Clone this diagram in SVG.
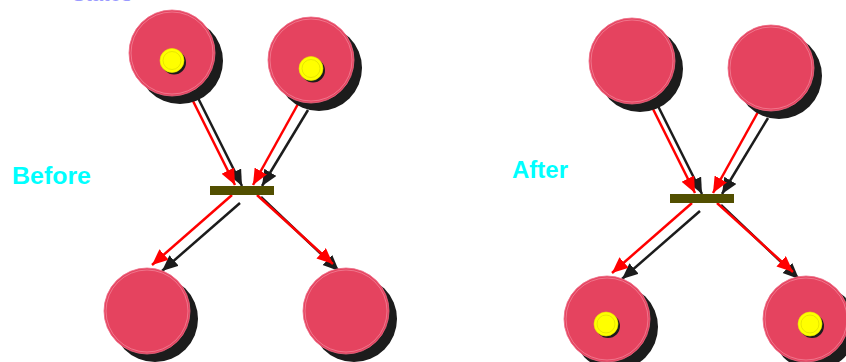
<svg xmlns="http://www.w3.org/2000/svg" width="846" height="362" viewBox="0 0 846 362">
<style>
.shadow{fill:#1c1c1c}
.place{fill:#E5435F;stroke:#ee6a84;stroke-width:0.8}
.ring{fill:none;stroke:#f3899d;stroke-width:0.7}
.tok{fill:#FFFF00;stroke:#e8e800;stroke-width:0.6}
.tokring{fill:none;stroke:#d6d600;stroke-width:0.6}
.bar{fill:#524F00}
.red{stroke:#FF0000;stroke-width:2.5;fill:none;marker-end:url(#ahr)}
.blk{stroke:#1c1c1c;stroke-width:2.5;fill:none;marker-end:url(#ahb)}
.lbl{font-family:"Liberation Sans",Arial,sans-serif;font-weight:bold;font-size:24px;fill:#00FFFF}
.title{font-family:"Liberation Sans",Arial,sans-serif;font-weight:bold;font-size:20px;fill:#9a9aff}
</style>
<defs>
<marker id="ahr" markerUnits="userSpaceOnUse" markerWidth="18" markerHeight="16" refX="16" refY="7" orient="auto"><path d="M0,0 L16,7 L0,14 z" fill="#FF0000"/></marker>
<marker id="ahb" markerUnits="userSpaceOnUse" markerWidth="18" markerHeight="16" refX="16" refY="7" orient="auto"><path d="M0,0 L16,7 L0,14 z" fill="#1c1c1c"/></marker>
</defs>
<rect width="846" height="362" fill="#ffffff"/>
<text class="title" x="72" y="1">States</text>
<text class="lbl" x="12" y="184" textLength="79" lengthAdjust="spacingAndGlyphs">Before</text>
<text class="lbl" x="512" y="178">After</text>
<g id="connectors">
<line class="blk" x1="198" y1="98" x2="242" y2="186"/>
<line class="blk" x1="308" y1="110" x2="262" y2="186"/>
<line class="blk" x1="240" y1="203" x2="162" y2="271"/>
<line class="blk" x1="261" y1="197" x2="339" y2="271"/>
<line class="red" x1="193" y1="101" x2="235" y2="185"/>
<line class="red" x1="298" y1="104" x2="253" y2="185"/>
<line class="red" x1="232" y1="195" x2="152" y2="265"/>
<line class="red" x1="257" y1="195" x2="333" y2="264"/>
<line class="blk" x1="658" y1="106" x2="702" y2="194"/>
<line class="blk" x1="768" y1="118" x2="722" y2="194"/>
<line class="blk" x1="700" y1="211" x2="622" y2="279"/>
<line class="blk" x1="721" y1="205" x2="799" y2="279"/>
<line class="red" x1="653" y1="109" x2="695" y2="193"/>
<line class="red" x1="758" y1="112" x2="713" y2="193"/>
<line class="red" x1="692" y1="203" x2="612" y2="273"/>
<line class="red" x1="717" y1="203" x2="793" y2="272"/>
</g>
<g id="before-bar"><rect class="bar" x="210" y="186" width="64" height="9"/></g>
<g id="after-bar"><rect class="bar" x="670" y="194" width="64" height="9"/></g>
<g id="before-p1"><circle class="shadow" cx="180" cy="61" r="43"/><circle class="place" cx="172" cy="53" r="43"/><circle class="ring" cx="172" cy="53" r="41"/><circle class="shadow" cx="174" cy="62.5" r="12"/><circle class="tok" cx="172" cy="60.5" r="12"/><circle class="tokring" cx="172" cy="60.5" r="9"/></g>
<g id="before-p2"><circle class="shadow" cx="319" cy="68" r="43"/><circle class="place" cx="311" cy="60" r="43"/><circle class="ring" cx="311" cy="60" r="41"/><circle class="shadow" cx="313" cy="70.5" r="12"/><circle class="tok" cx="311" cy="68.5" r="12"/><circle class="tokring" cx="311" cy="68.5" r="9"/></g>
<g id="before-p3"><circle class="shadow" cx="155" cy="319" r="43"/><circle class="place" cx="147" cy="311" r="43"/><circle class="ring" cx="147" cy="311" r="41"/></g>
<g id="before-p4"><circle class="shadow" cx="354" cy="319" r="43"/><circle class="place" cx="346" cy="311" r="43"/><circle class="ring" cx="346" cy="311" r="41"/></g>
<g id="after-p1"><circle class="shadow" cx="640" cy="69" r="43"/><circle class="place" cx="632" cy="61" r="43"/><circle class="ring" cx="632" cy="61" r="41"/></g>
<g id="after-p2"><circle class="shadow" cx="779" cy="76" r="43"/><circle class="place" cx="771" cy="68" r="43"/><circle class="ring" cx="771" cy="68" r="41"/></g>
<g id="after-p3"><circle class="shadow" cx="615" cy="327" r="43"/><circle class="place" cx="607" cy="319" r="43"/><circle class="ring" cx="607" cy="319" r="41"/><circle class="shadow" cx="608" cy="326" r="12"/><circle class="tok" cx="606" cy="324" r="12"/><circle class="tokring" cx="606" cy="324" r="9"/></g>
<g id="after-p4"><circle class="shadow" cx="814" cy="327" r="43"/><circle class="place" cx="806" cy="319" r="43"/><circle class="ring" cx="806" cy="319" r="41"/><circle class="shadow" cx="812" cy="326" r="12"/><circle class="tok" cx="810" cy="324" r="12"/><circle class="tokring" cx="810" cy="324" r="9"/></g>
</svg>
